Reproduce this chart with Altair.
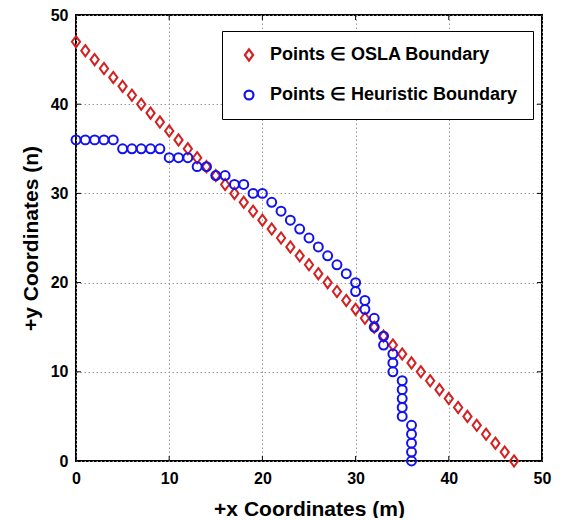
import altair as alt
import pandas as pd

# OSLA boundary points (x + y = 47)
osla_x = list(range(0, 48))
osla_y = [47 - i for i in range(0, 48)]

# Heuristic boundary points
heur_x = [0, 1, 2, 3, 4, 5, 6, 7, 8, 9, 10, 11, 12, 13, 14, 15, 16, 17, 18, 19, 20,
          21, 22, 23, 24, 25, 26, 27, 28, 29, 30, 30, 31, 31, 32, 32, 33, 33, 34, 34, 34,
          35, 35, 35, 35, 35, 36, 36, 36, 36, 36]
heur_y = [36, 36, 36, 36, 36, 35, 35, 35, 35, 35, 34, 34, 34, 33, 33, 32, 32, 31, 31, 30, 30,
          29, 28, 27, 26, 25, 24, 23, 22, 21, 20, 19, 18, 17, 16, 15, 14, 13, 12, 11, 10,
          9, 8, 7, 6, 5, 4, 3, 2, 1, 0]

series_names = ["Points \u2208 OSLA Boundary", "Points \u2208 Heuristic Boundary"]
tick_values = [0, 10, 20, 30, 40, 50]

df = pd.concat([
    pd.DataFrame({"x": osla_x, "y": osla_y, "series": series_names[0]}),
    pd.DataFrame({"x": heur_x, "y": heur_y, "series": series_names[1]}),
], ignore_index=True)
ticks = pd.DataFrame({"v": tick_values})

W, H = 466, 446
FONT = "Liberation Sans"
diamond = "M0,-1.25L0.92,0L0,1.25L-0.92,0Z"

xs = alt.Scale(domain=[0, 50], nice=False, zero=False)
ys = alt.Scale(domain=[0, 50], nice=False, zero=False)

points = alt.Chart(df).mark_point(filled=False, strokeWidth=2, size=80, opacity=1).encode(
    x=alt.X("x:Q", scale=xs, axis=alt.Axis(
        values=tick_values, title="+x Coordinates (m)", grid=True, ticks=False,
        domain=False, labelPadding=9, labelFlush=False,
        titleY=48, titleBaseline="middle")),
    y=alt.Y("y:Q", scale=ys, axis=alt.Axis(
        values=tick_values, title="+y Coordinates (n)", grid=True, ticks=False,
        domain=False, labelPadding=8, labelFlush=False, titlePadding=9)),
    color=alt.Color("series:N", scale=alt.Scale(domain=series_names, range=["#d42020", "#1212ee"]),
                    legend=alt.Legend(title=None, orient="none", legendX=146, legendY=16)),
    shape=alt.Shape("series:N", scale=alt.Scale(domain=series_names, range=[diamond, "circle"]),
                    legend=alt.Legend(title=None, orient="none", legendX=146, legendY=16)),
)

tick_bottom = alt.Chart(ticks).mark_rule(color="black", strokeWidth=1).encode(
    x=alt.X("v:Q", scale=xs), y=alt.value(H), y2=alt.value(H - 5))
tick_top = alt.Chart(ticks).mark_rule(color="black", strokeWidth=1).encode(
    x=alt.X("v:Q", scale=xs), y=alt.value(0), y2=alt.value(5))
tick_left = alt.Chart(ticks).mark_rule(color="black", strokeWidth=1).encode(
    y=alt.Y("v:Q", scale=ys), x=alt.value(0), x2=alt.value(5))
tick_right = alt.Chart(ticks).mark_rule(color="black", strokeWidth=1).encode(
    y=alt.Y("v:Q", scale=ys), x=alt.value(W), x2=alt.value(W - 5))

chart = alt.layer(tick_bottom, tick_top, tick_left, tick_right, points).properties(
    width=W, height=H,
    background="white",
    autosize=alt.AutoSizeParams(type="none"),
    padding={"left": 68, "top": 7, "right": 12, "bottom": 57},
).configure_view(
    stroke="black", strokeWidth=2, fill="white"
).configure_axis(
    labelFont=FONT, labelFontSize=16, labelFontWeight="bold", labelColor="black",
    titleFont=FONT, titleFontSize=21, titleFontWeight="bold", titleColor="black",
    gridColor="#999999", gridDash=[1.5, 2.5], gridWidth=1, gridOpacity=1,
).configure_legend(
    labelFont=FONT, labelFontSize=18, labelFontWeight="bold", labelColor="black",
    strokeColor="black", fillColor="white", padding=15, symbolOffset=3,
    labelOffset=12, rowPadding=21, symbolStrokeWidth=2.2, symbolSize=80, labelLimit=400,
)

chart.save("out.html", embed_options={"renderer": "svg", "actions": False})
